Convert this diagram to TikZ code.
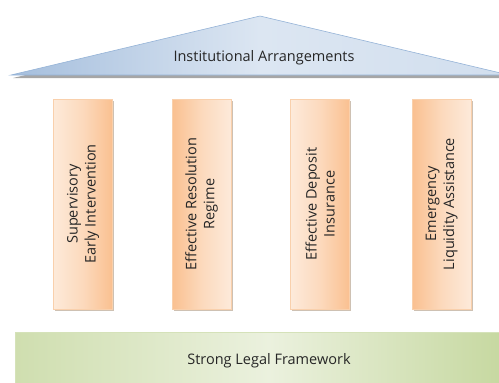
\documentclass[tikz,border=0pt]{standalone}
\usepackage{fontspec}
\setmainfont{Open Sans}
\usetikzlibrary{positioning,shadows}

\definecolor{roofdark}{HTML}{95B3D7}
\definecolor{rooflight}{HTML}{DCE6F2}
\definecolor{pillardark}{HTML}{FAC090}
\definecolor{pillarlight}{HTML}{FDEADA}
\definecolor{pillaredge}{HTML}{F9D0AC}
\definecolor{basedark}{HTML}{C3D69B}
\definecolor{baselight}{HTML}{EBF1DE}

\begin{document}
\begin{tikzpicture}[x=1pt, y=-1pt,
  node distance=59pt,
  txt/.style={font=\fontsize{14.5}{18}\selectfont, text=black!85},
  pillar/.style={draw=pillaredge, line width=0.6pt, minimum width=59pt,
                 minimum height=210pt, inner sep=0pt,
                 drop shadow={shadow xshift=1.5pt, shadow yshift=-1.5pt,
                              fill=brown!60!black, opacity=0.35}},
  ptext/.style={txt, rotate=90, align=center},
  litedark/.style={pillar, left color=pillarlight, right color=pillardark,
                   middle color=pillarlight!60!pillardark},
  darklite/.style={pillar, left color=pillardark, right color=pillarlight,
                   middle color=pillarlight!60!pillardark},
]
\clip (0,0) rectangle (499,383);

% roof
\fill[black!35] (13,78) -- (261,19) -- (511,78) -- cycle;
\shade[draw=roofdark, line width=0.6pt, left color=roofdark!85, right color=rooflight!85!roofdark,
       middle color=rooflight] (11,75) -- (260,16) -- (509,75) -- cycle;
\node[txt] (roof) at (264,58) {Institutional Arrangements};

% pillars
\node[litedark]             (sup) at (83,204) {};
\node[darklite, right=of sup] (res) {};
\node[litedark, right=of res] (dep) {};
\node[darklite, right=62pt of dep] (ela) {};

\node[ptext] (suptext) at (sup) {Supervisory\\Early Intervention};
\node[ptext] (restext) at (res) {Effective Resolution\\Regime};
\node[ptext] (deptext) at (dep) {Effective Deposit\\Insurance};
\node[ptext] (elatext) at (ela) {Emergency\\Liquidity Assistance};

% foundation
\node[txt, draw=basedark!70, line width=0.6pt, minimum width=508pt, minimum height=58pt,
      left color=basedark!70!baselight, right color=basedark, middle color=baselight]
      (legal) at (269,361) {Strong Legal Framework};
\end{tikzpicture}
\end{document}
